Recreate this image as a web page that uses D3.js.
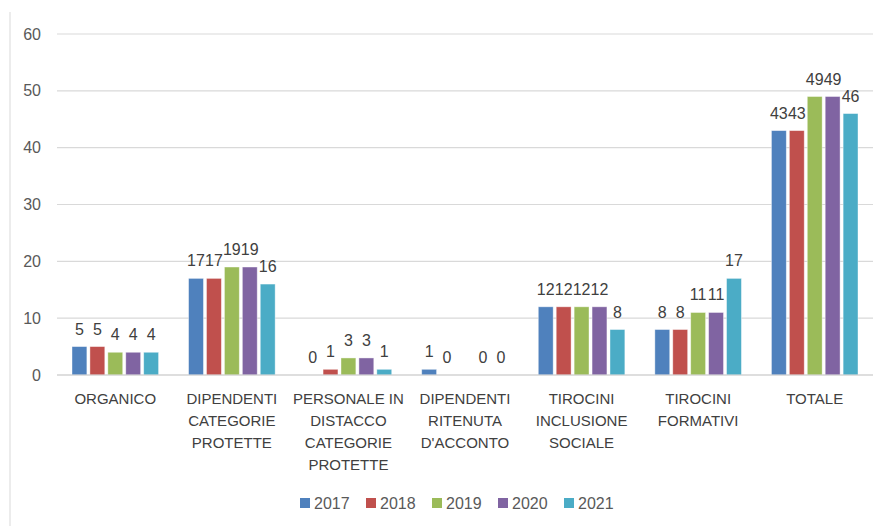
<!DOCTYPE html>
<html>
<head>
<meta charset="utf-8">
<script src="https://cdn.jsdelivr.net/npm/d3@7"></script>
<style>
  body { margin: 0; background: #fff; }
  svg { display: block; font-family: "Liberation Sans", Arial, sans-serif; }
</style>
</head>
<body>
<div id="chart"></div>
<script>
const categories = ["ORGANICO", "DIPENDENTI CATEGORIE PROTETTE", "PERSONALE IN DISTACCO CATEGORIE PROTETTE",
  "DIPENDENTI RITENUTA D'ACCONTO", "TIROCINI INCLUSIONE SOCIALE", "TIROCINI FORMATIVI", "TOTALE"];
const categoryLines = [
  ["ORGANICO"],
  ["DIPENDENTI", "CATEGORIE", "PROTETTE"],
  ["PERSONALE IN", "DISTACCO", "CATEGORIE", "PROTETTE"],
  ["DIPENDENTI", "RITENUTA", "D'ACCONTO"],
  ["TIROCINI", "INCLUSIONE", "SOCIALE"],
  ["TIROCINI", "FORMATIVI"],
  ["TOTALE"]
];
const years = ["2017", "2018", "2019", "2020", "2021"];
const values2017 = [5, 17, 0, 1, 12, 8, 43];
const values2018 = [5, 17, 1, 0, 12, 8, 43];
const values2019 = [4, 19, 3, null, 12, 11, 49];
const values2020 = [4, 19, 3, 0, 12, 11, 49];
const values2021 = [4, 16, 1, 0, 8, 17, 46];
const yTicks = [0, 10, 20, 30, 40, 50, 60];
const colors = ["#4f81bd", "#c0504d", "#9bbb59", "#8064a2", "#4bacc6"];

const series = [values2017, values2018, values2019, values2020, values2021];

const width = 886;
const height = 526;
const plotLeft = 57, plotRight = 873, plotTop = 34, plotBottom = 375;

const svg = d3.select("#chart")
  .append("svg")
    .attr("width", width)
    .attr("height", height);

// chart frame (left edge only visible)
svg.append("line")
  .attr("x1", 10).attr("x2", 10)
  .attr("y1", 12).attr("y2", height)
  .attr("stroke", "#d9d9d9");

const y = d3.scaleLinear()
  .domain([0, 60])
  .range([plotBottom, plotTop]);

const x0 = d3.scaleBand()
  .domain(categories)
  .range([plotLeft, plotRight]);

const x1 = d3.scaleBand()
  .domain(years)
  .range([15, x0.bandwidth() - 15])
  .paddingInner(0.17);

// gridlines
svg.append("g")
  .attr("class", "grid")
  .selectAll("line")
  .data(yTicks)
  .enter()
  .append("line")
    .attr("x1", plotLeft)
    .attr("x2", plotRight)
    .attr("y1", d => y(d))
    .attr("y2", d => y(d))
    .attr("stroke", "#d9d9d9")
    .attr("stroke-width", 1.2);

// y axis labels
svg.append("g")
  .attr("transform", `translate(${41}, 0)`)
  .call(d3.axisLeft(y).tickValues(yTicks).tickSize(0).tickPadding(0))
  .call(g => g.select(".domain").remove())
  .selectAll("text")
    .style("font-size", "16px")
    .style("font-family", "Liberation Sans, Arial, sans-serif")
    .attr("fill", "#595959");

// bars
const groups = svg.append("g")
  .selectAll("g")
  .data(categories)
  .enter()
  .append("g")
    .attr("transform", d => `translate(${x0(d)}, 0)`);

const cells = groups.selectAll("g")
  .data((d, i) => years.map((yr, j) => ({ year: yr, value: series[j][i], color: colors[j] })))
  .enter()
  .append("g");

cells.filter(d => d.value !== null)
  .append("rect")
    .attr("x", d => x1(d.year))
    .attr("y", d => y(d.value))
    .attr("width", x1.bandwidth())
    .attr("height", d => y(0) - y(d.value))
    .attr("fill", d => d.color)
    .attr("stroke", "#ffffff")
    .attr("stroke-opacity", 0.5)
    .attr("stroke-width", 0.8);

cells.filter(d => d.value !== null)
  .append("text")
    .attr("x", d => x1(d.year) + x1.bandwidth() / 2)
    .attr("y", d => y(d.value) - 12)
    .attr("text-anchor", "middle")
    .style("font-size", "16px")
    .attr("fill", "#404040")
    .text(d => d.value);

// baseline
svg.append("line")
  .attr("x1", plotLeft).attr("x2", plotRight)
  .attr("y1", y(0)).attr("y2", y(0))
  .attr("stroke", "#d0d0d0")
  .attr("stroke-width", 1.2);

// category labels
const catLabels = svg.append("g")
  .selectAll("text")
  .data(categories)
  .enter()
  .append("text")
    .attr("x", d => x0(d) + x0.bandwidth() / 2)
    .attr("y", 404)
    .attr("text-anchor", "middle")
    .style("font-size", "15px")
    .attr("fill", "#404040");

catLabels.selectAll("tspan")
  .data((d, i) => categoryLines[i])
  .enter()
  .append("tspan")
    .attr("x", function () { return d3.select(this.parentNode).attr("x"); })
    .attr("dy", (d, i) => i === 0 ? 0 : 22)
    .text(d => d);

// legend
const legendStep = 66;
const legendX = 300;
const legend = svg.append("g")
  .attr("transform", `translate(${legendX}, ${503})`);

const items = legend.selectAll("g")
  .data(years)
  .enter()
  .append("g")
    .attr("transform", (d, i) => `translate(${i * legendStep}, 0)`);

items.append("rect")
  .attr("x", 0)
  .attr("y", -5)
  .attr("width", 10)
  .attr("height", 10)
  .attr("fill", (d, i) => colors[i]);

items.append("text")
  .attr("x", 14)
  .attr("y", 6)
  .style("font-size", "16px")
  .attr("fill", "#595959")
  .text(d => d);
</script>
</body>
</html>
